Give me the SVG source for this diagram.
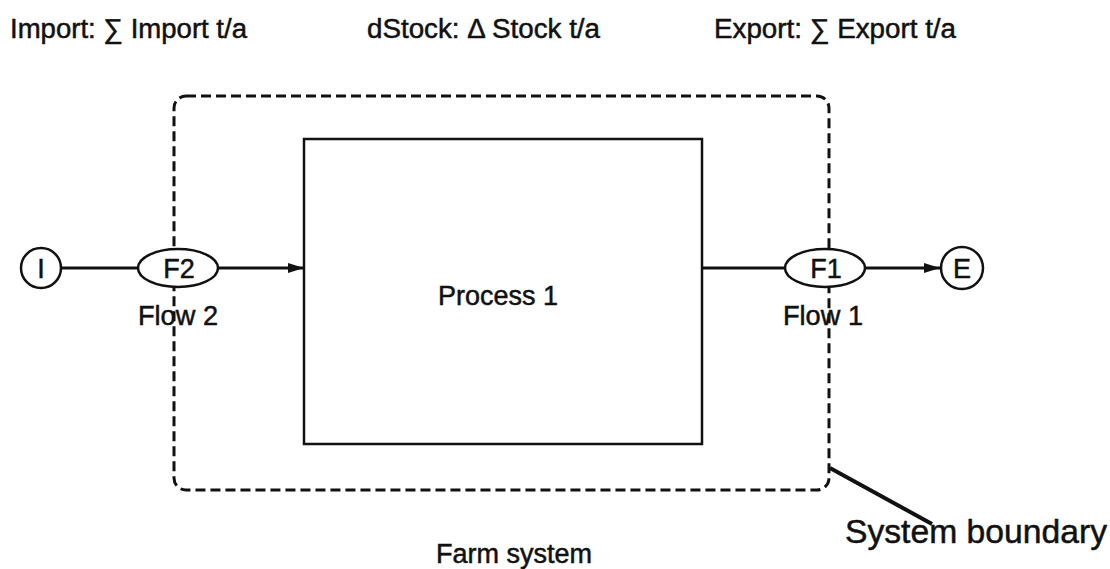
<svg xmlns="http://www.w3.org/2000/svg" width="1110" height="569" viewBox="0 0 1110 569">
  <style>
    .lbl { font-family: "Liberation Sans", Arial, sans-serif; fill: #111; stroke: #111; stroke-width: 0.5; }
    .hdr { font-size: 27px; }
    .node { fill: #fff; stroke: #111; stroke-width: 2.5; }
    .conn { stroke: #111; stroke-width: 3; fill: none; }
  </style>
  <defs>
    <marker id="arrow" viewBox="0 0 16 10" refX="16" refY="5" markerWidth="16" markerHeight="10" orient="auto" markerUnits="userSpaceOnUse">
      <path d="M0,0 L16,5 L0,10 z" fill="#111"/>
    </marker>
  </defs>
  <rect width="1110" height="569" fill="#fff"/>

  <!-- balance summary -->
  <g id="header">
    <text class="lbl hdr" x="10" y="38" textLength="237" lengthAdjust="spacingAndGlyphs">Import: ∑ Import t/a</text>
    <text class="lbl hdr" x="367" y="38" textLength="233" lengthAdjust="spacingAndGlyphs">dStock: Δ Stock t/a</text>
    <text class="lbl hdr" x="714" y="38" textLength="242" lengthAdjust="spacingAndGlyphs">Export: ∑ Export t/a</text>
  </g>

  <!-- system boundary -->
  <g id="boundary">
    <rect x="174" y="96" width="655" height="394" rx="12" fill="none" stroke="#111" stroke-width="3" stroke-dasharray="10,5"/>
    <line x1="830" y1="468" x2="932" y2="524" stroke="#111" stroke-width="4"/>
    <text class="lbl" x="845" y="543" font-size="34" textLength="262" lengthAdjust="spacingAndGlyphs" stroke-width="0">System boundary</text>
    <text class="lbl" x="514" y="563" font-size="27" text-anchor="middle" textLength="156" lengthAdjust="spacingAndGlyphs">Farm system</text>
  </g>

  <!-- connectors -->
  <g id="connectors">
    <line class="conn" x1="61" y1="268" x2="138" y2="268"/>
    <line class="conn" x1="218" y1="268" x2="304" y2="268" marker-end="url(#arrow)"/>
    <line class="conn" x1="703" y1="268" x2="785" y2="268"/>
    <line class="conn" x1="865" y1="268" x2="940" y2="268" marker-end="url(#arrow)"/>
  </g>

  <g id="process1">
    <rect class="node" x="304" y="139" width="398" height="305" stroke-width="3"/>
    <text class="lbl" x="498" y="305" font-size="28" text-anchor="middle" textLength="120" lengthAdjust="spacingAndGlyphs">Process 1</text>
  </g>

  <g id="import">
    <circle class="node" cx="41" cy="268" r="20"/>
    <text class="lbl" x="41" y="278" font-size="27" text-anchor="middle">I</text>
  </g>

  <g id="flow2">
    <ellipse class="node" cx="178" cy="268" rx="40" ry="19"/>
    <text class="lbl" x="179" y="278" font-size="27" text-anchor="middle">F2</text>
    <text class="lbl" x="178" y="325" font-size="27" text-anchor="middle" textLength="80" lengthAdjust="spacingAndGlyphs">Flow 2</text>
  </g>

  <g id="flow1">
    <ellipse class="node" cx="825" cy="268" rx="40" ry="19"/>
    <text class="lbl" x="826" y="278" font-size="27" text-anchor="middle">F1</text>
    <text class="lbl" x="823" y="325" font-size="27" text-anchor="middle" textLength="80" lengthAdjust="spacingAndGlyphs">Flow 1</text>
  </g>

  <g id="export">
    <circle class="node" cx="962" cy="268" r="21"/>
    <text class="lbl" x="962" y="278" font-size="27" text-anchor="middle">E</text>
  </g>
</svg>
